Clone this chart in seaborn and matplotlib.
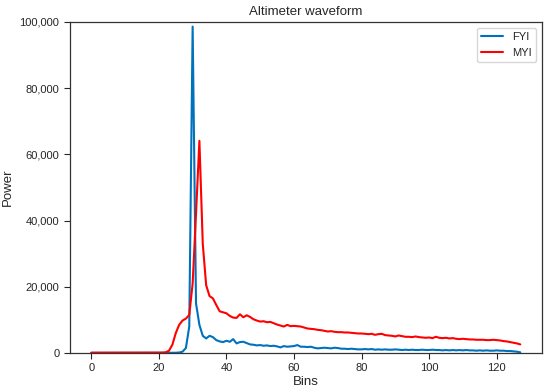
import numpy as np
import pandas as pd
import matplotlib
matplotlib.use("Agg")
import matplotlib.pyplot as plt
import seaborn as sns
from matplotlib.ticker import FuncFormatter

# waveform power per range bin
fyi_power = [
    50, 50, 50, 50, 50, 50, 50, 50, 50, 50,
    50, 50, 50, 50, 50, 50, 50, 50, 50, 50,
    50, 50, 50, 50, 60, 80, 150, 400, 1500, 8000,
    98600, 15000, 8500, 5200, 4400, 5200, 4800, 3900, 3500, 3300,
    3700, 3400, 4200, 2900, 3300, 3400, 3000, 2600, 2500, 2300,
    2400, 2200, 2300, 2100, 2200, 2000, 1700, 2100, 1900, 2000,
    2100, 2400, 1900, 1900, 1800, 1900, 1600, 1400, 1500, 1600,
    1500, 1400, 1600, 1500, 1300, 1300, 1200, 1300, 1200, 1100,
    1100, 1200, 1100, 1200, 1000, 1100, 1000, 1100, 1000, 1000,
    1100, 1000, 900, 1000, 900, 1000, 900, 900, 1000, 900,
    900, 1000, 900, 900, 800, 900, 800, 900, 800, 900,
    800, 900, 800, 800, 700, 800, 700, 800, 700, 700,
    800, 700, 700, 600, 600, 500, 400, 200,
]
myi_power = [
    100, 100, 100, 100, 100, 100, 100, 100, 100, 100,
    100, 100, 100, 100, 100, 100, 100, 100, 100, 100,
    100, 120, 200, 700, 2500, 6000, 8500, 9800, 10400, 11500,
    21000, 42000, 64100, 33000, 20500, 17200, 16500, 14500, 12600, 12300,
    12000, 11200, 10700, 10600, 11700, 10800, 11400, 10900, 10200, 9800,
    9500, 9600, 9300, 9400, 9000, 8600, 8300, 8000, 8500, 8100,
    8200, 8100, 8000, 7700, 7400, 7300, 7200, 7000, 6900, 6700,
    6500, 6600, 6400, 6300, 6300, 6200, 6200, 6100, 6000, 5900,
    5900, 5800, 5700, 5800, 5500, 5700, 5800, 5400, 5300, 5200,
    5000, 5300, 5100, 4900, 4900, 4800, 5000, 4800, 4700, 4600,
    4700, 4500, 4900, 4600, 4500, 4600, 4400, 4500, 4300, 4200,
    4300, 4200, 4100, 4100, 4000, 4000, 4000, 3900, 3900, 4000,
    3900, 3800, 3600, 3500, 3300, 3100, 2900, 2600,
]
bins = np.arange(len(fyi_power))

df = pd.DataFrame({
    "Bins": np.concatenate([bins, bins]),
    "Power": fyi_power + myi_power,
    "type": ["FYI"] * len(bins) + ["MYI"] * len(bins),
})

sns.set_style("ticks")
plt.rcParams["font.family"] = ["Liberation Sans", "DejaVu Sans"]

fig = plt.figure(figsize=(5.5, 3.89), dpi=100)
ax = fig.add_axes([0.127, 0.0925, 0.858, 0.851])

sns.lineplot(data=df, x="Bins", y="Power", hue="type",
             palette={"FYI": "#0072BD", "MYI": "#FF0000"},
             linewidth=1.5, ax=ax)

ax.set_ylim(0, 100000)
ax.set_yticks([0, 20000, 40000, 60000, 80000, 100000])
ax.yaxis.set_major_formatter(FuncFormatter(lambda v, p: f"{int(v):,}"))
ax.set_xticks([0, 20, 40, 60, 80, 100, 120])
ax.tick_params(labelsize=8, length=4, width=0.8, direction="out")
for s in ax.spines.values():
    s.set_color("#333333")
    s.set_linewidth(0.9)

ax.set_xlabel("Bins", fontsize=9.5, labelpad=2)
ax.set_ylabel("Power", fontsize=9.5)
ax.set_title("Altimeter waveform", fontsize=9.5, pad=5)
ax.legend(title=None, loc="upper right", fontsize=8, frameon=True)

fig.savefig("out.png", dpi=100)
